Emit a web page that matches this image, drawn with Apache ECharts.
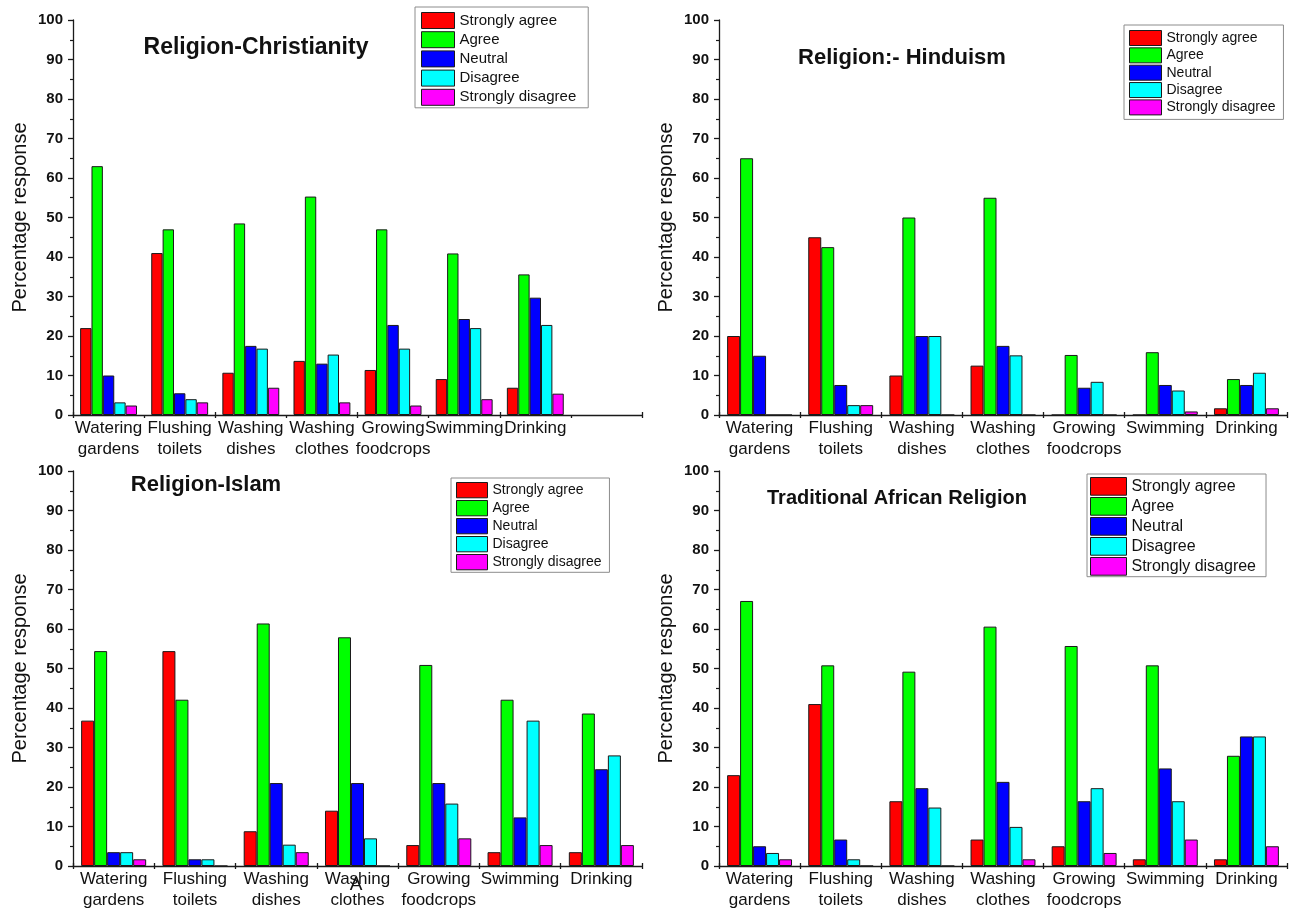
<!DOCTYPE html>
<html>
<head>
<meta charset="utf-8">
<title>Water reuse acceptance by religion</title>
<script src="https://cdn.jsdelivr.net/npm/echarts@6/dist/echarts.min.js"></script>
<style>
  html, body { margin: 0; padding: 0; background: #fff; }
  #chart { width: 1290px; height: 913px; }
</style>
</head>
<body>
<div id="chart"></div>
<script>
// Water uses on the category axis
const categories = ['Watering\ngardens', 'Flushing\ntoilets', 'Washing\ndishes', 'Washing\nclothes', 'Growing\nfoodcrops', 'Swimming', 'Drinking'];
const responseLevels = ['Strongly agree', 'Agree', 'Neutral', 'Disagree', 'Strongly disagree'];
const levelColors = ['#ff0000', '#00ff00', '#0000ff', '#00ffff', '#ff00ff'];
const panelTitles = ['Religion-Christianity', 'Religion:- Hinduism', 'Religion-Islam', 'Traditional African Religion'];

// Percentage response, Christianity
const christianityStronglyAgree = [22, 41, 10.7, 13.7, 11.4, 9.1, 6.9];
const christianityAgree = [63, 47, 48.5, 55.3, 47, 40.9, 35.6];
const christianityNeutral = [10, 5.5, 17.5, 13, 22.8, 24.3, 29.7];
const christianityDisagree = [3.2, 4, 16.8, 15.3, 16.8, 22, 22.8];
const christianityStronglyDisagree = [2.4, 3.2, 6.9, 3.2, 2.4, 4, 5.4];

// Percentage response, Hinduism
const hinduismStronglyAgree = [20, 45, 10, 12.5, 0, 0, 1.7];
const hinduismAgree = [65, 42.5, 50, 55, 15.2, 15.9, 9.1];
const hinduismNeutral = [15, 7.6, 20, 17.5, 6.9, 7.6, 7.6];
const hinduismDisagree = [0, 2.5, 20, 15.1, 8.4, 6.2, 10.7];
const hinduismStronglyDisagree = [0, 2.5, 0, 0, 0, 0.9, 1.7];

// Percentage response, Islam
const islamStronglyAgree = [36.8, 54.4, 8.8, 14, 5.3, 3.5, 3.5];
const islamAgree = [54.4, 42.1, 61.4, 57.9, 50.9, 42.1, 38.6];
const islamNeutral = [3.5, 1.7, 21, 21, 21, 12.3, 24.5];
const islamDisagree = [3.5, 1.7, 5.4, 7, 15.8, 36.8, 28];
const islamStronglyDisagree = [1.7, 0, 3.5, 0, 7, 5.3, 5.3];

// Percentage response, Traditional African Religion
const traditionalStronglyAgree = [23, 41, 16.4, 6.7, 5, 1.7, 1.7];
const traditionalAgree = [67.1, 50.8, 49.2, 60.6, 55.7, 50.8, 27.9];
const traditionalNeutral = [5, 6.7, 19.7, 21.3, 16.4, 24.7, 32.8];
const traditionalDisagree = [3.3, 1.7, 14.8, 9.9, 19.7, 16.4, 32.8];
const traditionalStronglyDisagree = [1.7, 0, 0, 1.7, 3.3, 6.7, 5];

const panelData = [
  [christianityStronglyAgree, christianityAgree, christianityNeutral, christianityDisagree, christianityStronglyDisagree],
  [hinduismStronglyAgree, hinduismAgree, hinduismNeutral, hinduismDisagree, hinduismStronglyDisagree],
  [islamStronglyAgree, islamAgree, islamNeutral, islamDisagree, islamStronglyDisagree],
  [traditionalStronglyAgree, traditionalAgree, traditionalNeutral, traditionalDisagree, traditionalStronglyDisagree]
];

const FONT = '"Liberation Sans", Arial, Helvetica, sans-serif';
const AXIS_COLOR = '#1a1a1a';

// Panel frames: plot areas, legends and title anchors
const grids = [
  { left: 73, top: 20, width: 569, height: 395 },
  { left: 719, top: 20, width: 568, height: 395 },
  { left: 73, top: 471, width: 569, height: 395 },
  { left: 719, top: 471, width: 568, height: 395 }
];
const legends = [
  { left: 415, top: 7, w: 33, h: 16, gap: 2.2, fs: 15, pad: [5, 12, 2, 6] },
  { left: 1124, top: 25, w: 32, h: 15, gap: 1.35, fs: 14, pad: [5, 8, 4, 5] },
  { left: 451, top: 478, w: 31, h: 15.3, gap: 1.7, fs: 14, pad: [4, 8, 2, 5] },
  { left: 1087, top: 474, w: 36, h: 17.7, gap: 1.3, fs: 16, pad: [3, 10, 1, 3] }
];
const titles = [
  { x: 256, y: 48, fs: 23 },
  { x: 902, y: 58, fs: 22 },
  { x: 206, y: 485, fs: 22 },
  { x: 897, y: 498, fs: 20 }
];

const xAxes = [];
const yAxes = [];
const series = [];
const legendList = [];
const graphics = [];

grids.forEach(function (g, i) {
  // The first panel keeps a spare empty slot at the right end of its axis
  const axisCats = i === 0 ? categories.concat(['']) : categories;
  xAxes.push({
    type: 'category', gridIndex: i, data: axisCats, position: 'bottom',
    axisLine: { show: true, lineStyle: { color: AXIS_COLOR, width: 1.3 } },
    axisTick: { show: true, inside: false, length: 3, lineStyle: { color: AXIS_COLOR, width: 1.3 } },
    axisLabel: { show: true, interval: 0, margin: 3, fontSize: 17, lineHeight: 21, color: '#111', fontFamily: FONT },
    splitLine: { show: false }
  });
  // Companion axis that draws the upward half of the category ticks
  xAxes.push({
    type: 'category', gridIndex: i, data: axisCats, position: 'bottom',
    axisLine: { show: false },
    axisTick: { show: true, inside: true, length: 3, lineStyle: { color: AXIS_COLOR, width: 1.3 } },
    axisLabel: { show: false },
    splitLine: { show: false }
  });
  yAxes.push({
    type: 'value', gridIndex: i, min: 0, max: 100, interval: 10,
    name: 'Percentage response', nameLocation: 'middle', nameGap: 43, nameRotate: 90,
    nameTextStyle: { fontSize: 20, color: '#111', fontFamily: FONT },
    axisLine: { show: true, lineStyle: { color: AXIS_COLOR, width: 1.3 } },
    axisTick: { show: true, inside: false, length: 5, lineStyle: { color: AXIS_COLOR, width: 1.3 } },
    minorTick: { show: true, splitNumber: 2, length: 3, lineStyle: { color: AXIS_COLOR, width: 1.2 } },
    axisLabel: { margin: 10, fontSize: 15, fontWeight: 'bold', color: '#111', fontFamily: FONT },
    splitLine: { show: false }
  });
  responseLevels.forEach(function (name, k) {
    series.push({
      type: 'bar', name: name, xAxisIndex: i * 2, yAxisIndex: i,
      data: panelData[i][k],
      barGap: '0%', barCategoryGap: '20%',
      itemStyle: { color: levelColors[k], borderColor: '#1a1a1a', borderWidth: 1 },
      emphasis: { disabled: true },
      animation: false
    });
  });
  const L = legends[i];
  legendList.push({
    show: true, orient: 'vertical', left: L.left, top: L.top,
    itemWidth: L.w, itemHeight: L.h, itemGap: L.gap, padding: L.pad,
    borderColor: '#8c8c8c', borderWidth: 1, backgroundColor: '#fff',
    selectedMode: false, icon: 'rect',
    itemStyle: { borderWidth: 1, borderColor: '#1a1a1a' },
    textStyle: { fontSize: L.fs, lineHeight: L.h, color: '#111', fontFamily: FONT },
    data: responseLevels
  });
  const T = titles[i];
  graphics.push({
    type: 'text', x: T.x, y: T.y,
    style: { text: panelTitles[i], font: 'bold ' + T.fs + 'px ' + FONT, fill: '#111', textAlign: 'center', textVerticalAlign: 'middle' }
  });
});

// Stray panel letter sitting over the "Washing clothes" label of the third panel
graphics.push({
  type: 'text', x: 356, y: 885,
  style: { text: 'A', font: '19px ' + FONT, fill: '#111', textAlign: 'center', textVerticalAlign: 'middle' }
});

const chart = echarts.init(document.getElementById('chart'), null, { renderer: 'canvas' });
chart.setOption({
  animation: false,
  backgroundColor: '#fff',
  textStyle: { fontFamily: FONT },
  grid: grids.map(function (g) { return Object.assign({ containLabel: false }, g); }),
  xAxis: xAxes,
  yAxis: yAxes,
  legend: legendList,
  tooltip: { show: false },
  series: series,
  graphic: graphics
});
</script>
</body>
</html>
